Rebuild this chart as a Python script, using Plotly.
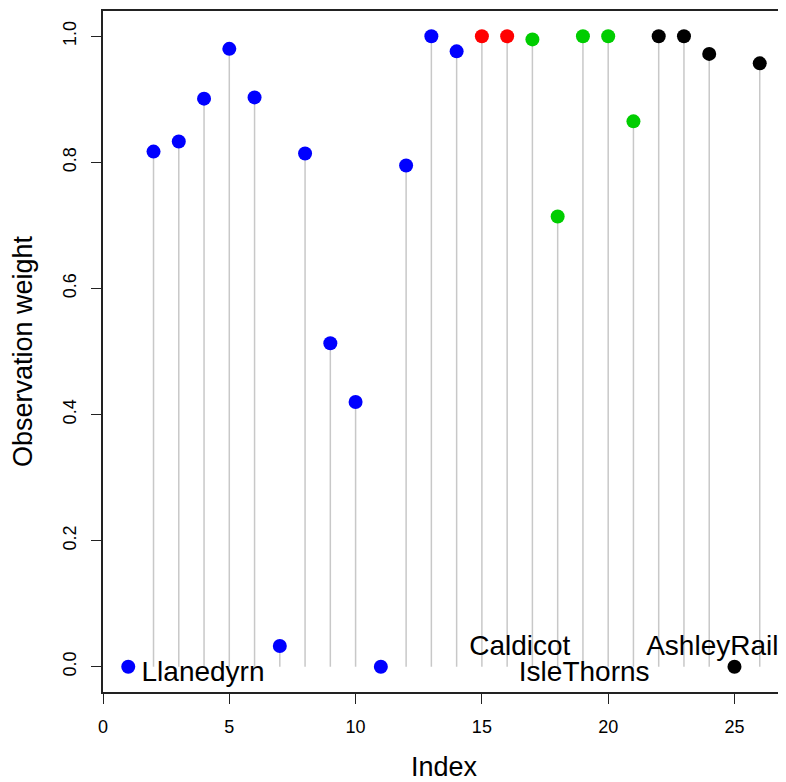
import plotly.graph_objects as go

index = list(range(1, 27))
weights = [0.0, 0.817, 0.833, 0.901, 0.980, 0.903, 0.033, 0.814, 0.513, 0.420,
           0.0, 0.795, 1.0, 0.976, 1.0, 1.0, 0.995, 0.714, 1.0, 1.0,
           0.865, 1.0, 1.0, 0.972, 0.0, 0.957]
groups = (["Llanedyrn"] * 14 + ["Caldicot"] * 2 + ["IsleThorns"] * 5 + ["AshleyRails"] * 5)
group_colors = {"Llanedyrn": "#0000FF", "Caldicot": "#FF0000",
                "IsleThorns": "#00CD00", "AshleyRails": "#000000"}

label_text = ["Llanedyrn", "Caldicot", "IsleThorns", "AshleyRails"]
label_x = [3.96, 16.5, 19.05, 24.4]
label_y = [-0.011, 0.03, -0.011, 0.03]

x_ticks = [0, 5, 10, 15, 20, 25]
y_ticks = [0.0, 0.2, 0.4, 0.6, 0.8, 1.0]
y_tick_text = ["0.0", "0.2", "0.4", "0.6", "0.8", "1.0"]

font_family = "Liberation Sans, Arial, sans-serif"

fig = go.Figure()

# stems
sx, sy = [], []
for xi, wi in zip(index, weights):
    sx += [xi, xi, None]
    sy += [0, wi, None]
fig.add_trace(go.Scatter(x=sx, y=sy, mode="lines",
                         line=dict(color="#c8c8c8", width=1.5),
                         hoverinfo="skip", showlegend=False))

# points
fig.add_trace(go.Scatter(x=index, y=weights, mode="markers",
                         marker=dict(size=14, color=[group_colors[g] for g in groups],
                                     line=dict(width=0)),
                         showlegend=False))

# labels
fig.add_trace(go.Scatter(x=label_x, y=label_y, mode="text", text=label_text,
                         textposition="middle center",
                         textfont=dict(size=28, color="#000000", family=font_family),
                         cliponaxis=True, hoverinfo="skip", showlegend=False))

# page body has an 8px margin, so the figure is sized to fit inside it
fig.update_layout(
    width=778, height=774,
    margin=dict(l=95, r=1, t=3, b=90),
    paper_bgcolor="white", plot_bgcolor="white",
    font=dict(family=font_family, color="#000000"),
    showlegend=False,
)
fig.update_xaxes(
    range=[0, 27], tickmode="array", tickvals=x_ticks, automargin=False,
    showgrid=False, zeroline=False,
    showline=True, linecolor="#222222", linewidth=1.5, mirror=True,
    ticks="outside", ticklen=10, tickwidth=1.2, tickcolor="#222222",
    tickfont=dict(size=18), ticklabelstandoff=8,
    title=dict(text="Index", font=dict(size=27), standoff=44),
)
fig.update_yaxes(
    range=[-0.04, 1.04], tickmode="array", tickvals=y_ticks, ticktext=y_tick_text,
    automargin=False,
    showgrid=False, zeroline=False,
    showline=True, linecolor="#222222", linewidth=1.5, mirror=True,
    ticks="outside", ticklen=10, tickwidth=1.2, tickcolor="#222222",
    tickfont=dict(size=18), tickangle=-90, ticklabelstandoff=8,
    title=dict(text="Observation weight", font=dict(size=27), standoff=20),
)

fig.write_html("out.html")
